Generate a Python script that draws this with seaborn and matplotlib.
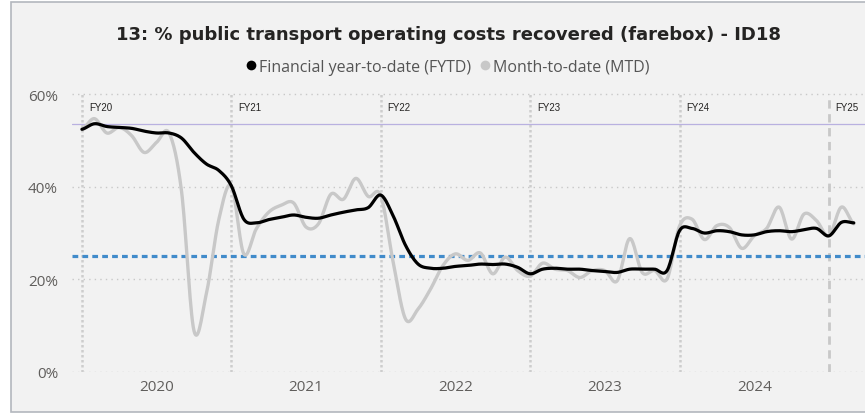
import numpy as np
import pandas as pd
import matplotlib
matplotlib.use('Agg')
import matplotlib.pyplot as plt
from matplotlib.lines import Line2D
from matplotlib.patches import Rectangle
import seaborn as sns

# monthly data, Jul 2019 .. Sep 2024
months = pd.date_range('2019-07-01', periods=63, freq='MS')

fytd = [52.4, 53.6, 53.0, 52.8, 52.6, 52.0, 51.6, 51.6, 50.5, 47.4, 44.9, 43.5,
        40.2, 33.0, 32.2, 32.9, 33.4, 33.9, 33.4, 33.2, 33.9, 34.5, 35.0, 35.5,
        38.2, 33.7, 27.3, 23.3, 22.4, 22.4, 22.8, 23.0, 23.3, 23.2, 23.3, 22.6,
        21.2, 22.2, 22.4, 22.2, 22.2, 21.9, 21.7, 21.5, 22.2, 22.2, 22.2, 21.9,
        30.5, 31.0, 30.0, 30.5, 30.3, 29.6, 29.6, 30.3, 30.5, 30.3, 30.7, 31.0,
        29.4, 32.3, 32.2]
mtd = [52.4, 54.7, 51.6, 52.8, 51.0, 47.4, 49.6, 51.6, 39.0, 8.9, 17.0, 33.0,
       40.2, 25.5, 30.9, 34.5, 36.0, 36.5, 31.3, 32.0, 38.4, 37.3, 41.8, 37.9,
       38.1, 23.7, 11.4, 13.6, 17.9, 23.0, 25.5, 24.1, 25.7, 21.2, 24.8, 21.9,
       20.7, 23.5, 22.2, 21.9, 20.4, 21.9, 21.9, 19.7, 28.8, 21.5, 21.9, 20.1,
       31.5, 33.0, 28.6, 31.6, 31.2, 26.7, 29.4, 31.0, 35.6, 28.7, 34.1, 32.7,
       29.4, 35.6, 32.0]

fy_labels = ['FY20', 'FY21', 'FY22', 'FY23', 'FY24', 'FY25']
year_labels = ['2020', '2021', '2022', '2023', '2024']
y_ticks = [0, 20, 40, 60]
target = 25.0
baseline = 53.5


def smooth(values, steps=16):
    # cardinal (Catmull-Rom) spline, like the smoothed line of the source tool
    y = np.asarray(values, float)
    p = np.concatenate([[y[0]], y, [y[-1]]])
    t = np.linspace(0, 1, steps, endpoint=False)
    h00 = 2 * t**3 - 3 * t**2 + 1
    h10 = t**3 - 2 * t**2 + t
    h01 = -2 * t**3 + 3 * t**2
    h11 = t**3 - t**2
    xs, ys = [], []
    for i in range(len(y) - 1):
        m1 = (p[i + 2] - p[i]) / 2
        m2 = (p[i + 3] - p[i + 1]) / 2
        xs.extend(i + t)
        ys.extend(h00 * p[i + 1] + h10 * m1 + h01 * p[i + 2] + h11 * m2)
    xs.append(len(y) - 1)
    ys.append(y[-1])
    return pd.DataFrame({'x': xs, 'y': ys})


sns.set_theme(style='white')
plt.rcParams['font.family'] = ['Open Sans', 'DejaVu Sans']

fig = plt.figure(figsize=(8.65, 4.14), dpi=100)
fig.patch.set_facecolor('white')
fig.patches.append(Rectangle((11 / 865, 1.5 / 414), 1.0, 1 - 4.5 / 414,
                             transform=fig.transFigure, facecolor='#F2F2F2',
                             edgecolor='#B3B7BE', linewidth=1.2, zorder=-5))

ax = fig.add_axes([72 / 865, 41 / 414, 793 / 865, 283 / 414])
ax.set_facecolor('none')

idx = np.arange(len(months))
fy_pos = idx[months.month == 7]
jan_pos = idx[months.month == 1]

# grid
for v in y_ticks:
    ax.axhline(v, color='#C8C8C8', lw=1.0, ls=(0, (1, 3)), zorder=1)
for k, x in enumerate(fy_pos):
    if k == len(fy_pos) - 1:
        ax.vlines(x, 0, 60, color='#C8C8C8', lw=2.0, ls=(0, (3, 2)), zorder=1)
    else:
        ax.vlines(x, 0, 60, color='#CDCDCD', lw=1.8, ls=(0, (1, 1)), zorder=1)
    ax.text(x + 0.55, 57.2, fy_labels[k], fontsize=7, color='#252423',
            ha='left', va='center', family='Liberation Sans')

ax.axhline(baseline, color='#B9B1E0', lw=0.9, zorder=2)
ax.axhline(target, color='#418BCA', lw=2.3, ls=(0, (1.8, 1.3)), zorder=2)

sns.lineplot(data=smooth(mtd), x='x', y='y', ax=ax, color='#C8C8C8', lw=2.4,
             sort=False, estimator=None, zorder=3)
sns.lineplot(data=smooth(fytd), x='x', y='y', ax=ax, color='black', lw=2.3,
             sort=False, estimator=None, zorder=4)

ax.set_xlim(-0.8, 62.9)
ax.set_ylim(0, 61.1)
ax.set_xticks(jan_pos)
ax.set_xticklabels(year_labels)
ax.set_yticks(y_ticks)
ax.set_yticklabels([f'{v}%' for v in y_ticks])
ax.tick_params(axis='both', length=0, labelsize=11, labelcolor='#605E5C')
ax.tick_params(axis='y', pad=10)
ax.tick_params(axis='x', pad=5)
ax.set_xlabel('')
ax.set_ylabel('')
for s in ax.spines.values():
    s.set_visible(False)

fig.text(0.519, 0.915, '13: % public transport operating costs recovered (farebox) - ID18',
         ha='center', va='center', fontsize=13, fontweight='bold', color='#252423',
         family='DejaVu Sans')

handles = [Line2D([], [], marker='o', ls='', markersize=7, markerfacecolor='black',
                  markeredgecolor='none'),
           Line2D([], [], marker='o', ls='', markersize=7, markerfacecolor='#C8C8C8',
                  markeredgecolor='none')]
fig.legend(handles, ['Financial year-to-date (FYTD)', 'Month-to-date (MTD)'],
           loc='center', bbox_to_anchor=(0.516, 0.836), ncol=2, frameon=False,
           handletextpad=0.0, columnspacing=0.4, handlelength=1.0,
           fontsize=11.5, labelcolor='#555555')

fig.savefig('out.png', dpi=100, facecolor=fig.get_facecolor())
